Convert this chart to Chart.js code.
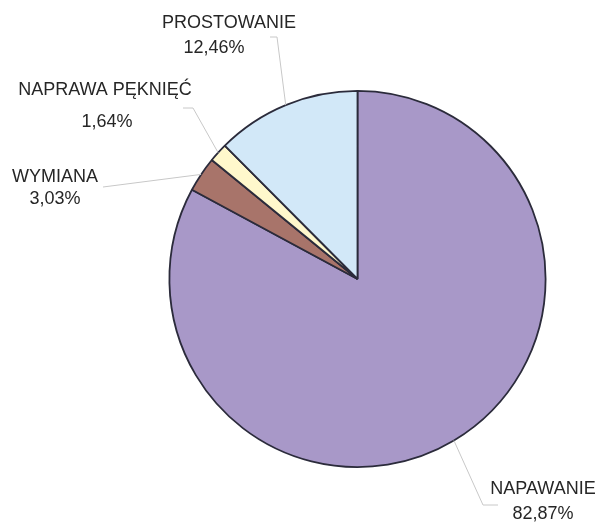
<!DOCTYPE html>
<html>
<head>
<meta charset="utf-8">
<script src="https://cdn.jsdelivr.net/npm/chart.js"></script>
<style>
  body { margin: 0; background: #fff; }
  canvas { display: block; }
</style>
</head>
<body>
<canvas id="pie" width="598" height="527"></canvas>
<script>
const categories = ['NAPAWANIE', 'WYMIANA', 'NAPRAWA PĘKNIĘĆ', 'PROSTOWANIE'];
const shares = [82.87, 3.03, 1.64, 12.46];
const sliceColors = ['#a898c8', '#a8746a', '#fff8cc', '#d2e8f8'];

// where each label sits and where its leader line bends (pixels)
const labelSpots = [
  { name: [543, 489], pct: [543, 514], bend: [[483, 505], [498, 505]] },
  { name: [55, 177], pct: [55, 199], bend: [[103, 187]] },
  { name: [105, 90], pct: [107, 122], bend: [[193, 108], [183, 108]] },
  { name: [229, 23], pct: [214, 48], bend: [[277, 37], [270, 37]] }
];

const fmt = v => v.toFixed(2).replace('.', ',') + '%';

const calloutPlugin = {
  id: 'callouts',
  afterDraw(chart) {
    const ctx = chart.ctx;
    const meta = chart.getDatasetMeta(0);
    ctx.save();
    meta.data.forEach((arc, i) => {
      const p = arc.getProps(['x', 'y', 'startAngle', 'endAngle', 'outerRadius'], true);
      const mid = (p.startAngle + p.endAngle) / 2;
      const sx = p.x + Math.cos(mid) * p.outerRadius;
      const sy = p.y + Math.sin(mid) * p.outerRadius;
      const spot = labelSpots[i];
      ctx.strokeStyle = '#c8c8c8';
      ctx.lineWidth = 1;
      ctx.beginPath();
      ctx.moveTo(sx, sy);
      spot.bend.forEach(pt => ctx.lineTo(pt[0], pt[1]));
      ctx.stroke();

      ctx.fillStyle = '#262626';
      ctx.font = '18px "Liberation Sans", Arial, sans-serif';
      ctx.textAlign = 'center';
      ctx.textBaseline = 'middle';
      ctx.fillText(categories[i], spot.name[0], spot.name[1]);
      ctx.fillText(fmt(shares[i]), spot.pct[0], spot.pct[1]);
    });
    ctx.restore();
  }
};

new Chart(document.getElementById('pie'), {
  type: 'pie',
  data: {
    labels: categories,
    datasets: [{
      data: shares,
      backgroundColor: sliceColors,
      borderColor: '#2b2b3b',
      borderWidth: 1.8
    }]
  },
  options: {
    responsive: false,
    animation: false,
    layout: {
      padding: { top: 90, bottom: 59, left: 168, right: 51 }
    },
    plugins: {
      legend: { display: false },
      tooltip: { enabled: false }
    }
  },
  plugins: [calloutPlugin]
});
</script>
</body>
</html>
